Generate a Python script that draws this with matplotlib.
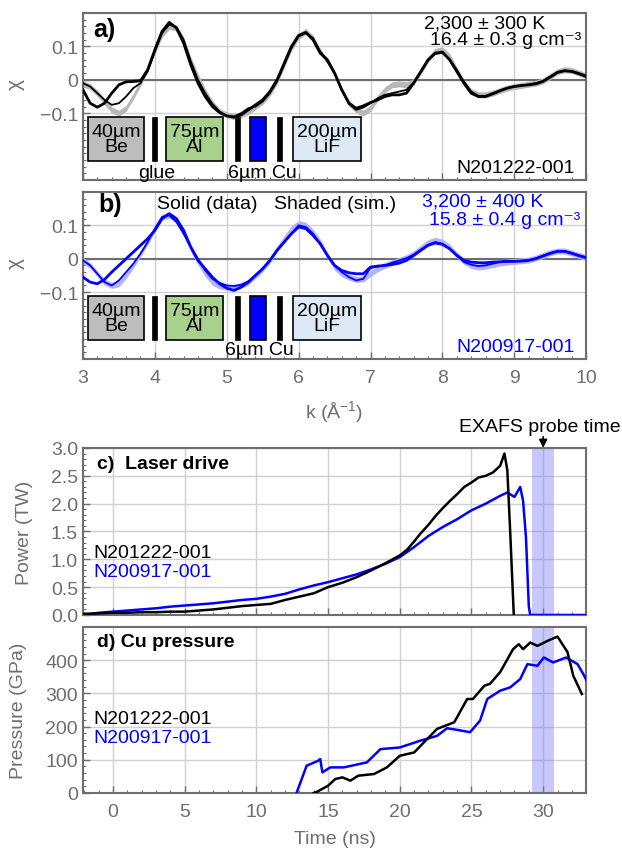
import matplotlib
matplotlib.use("Agg")
import matplotlib.pyplot as plt
from matplotlib.patches import Rectangle
from matplotlib.ticker import MultipleLocator

plt.rcParams['font.family'] = ['Liberation Sans', 'DejaVu Sans']
plt.rcParams['mathtext.fontset'] = 'custom'
plt.rcParams['mathtext.rm'] = 'Liberation Sans'
plt.rcParams['mathtext.it'] = 'Liberation Sans:italic'
plt.rcParams['axes.unicode_minus'] = True

# ---- EXAFS chi(k) data ----
k = [3.0, 3.1, 3.2, 3.3, 3.4, 3.5, 3.6, 3.7, 3.8, 3.9,
     4.0, 4.1, 4.2, 4.3, 4.4, 4.5, 4.6, 4.7, 4.8, 4.9,
     5.0, 5.1, 5.2, 5.3, 5.4, 5.5, 5.6, 5.7, 5.8, 5.9,
     6.0, 6.1, 6.2, 6.3, 6.4, 6.5, 6.6, 6.7, 6.8, 6.9,
     7.0, 7.1, 7.2, 7.3, 7.4, 7.5, 7.6, 7.7, 7.8, 7.9,
     8.0, 8.1, 8.2, 8.3, 8.4, 8.5, 8.6, 8.7, 8.8, 8.9,
     9.0, 9.1, 9.2, 9.3, 9.4, 9.5, 9.6, 9.7, 9.8, 9.9, 10.0]

# N201222-001 (black)
chi_a1 = [-0.030, -0.070, -0.082, -0.070, -0.040, -0.015, -0.006, -0.005, -0.003, 0.030,
          0.090, 0.145, 0.172, 0.155, 0.110, 0.045, -0.010, -0.050, -0.080, -0.098,
          -0.108, -0.112, -0.105, -0.090, -0.075, -0.060, -0.035, 0.000, 0.050, 0.100,
          0.133, 0.142, 0.120, 0.080, 0.060, 0.020, -0.030, -0.070, -0.085, -0.078,
          -0.068, -0.060, -0.050, -0.045, -0.045, -0.040, -0.010, 0.025, 0.060, 0.080,
          0.083, 0.060, 0.025, -0.010, -0.040, -0.050, -0.050, -0.042, -0.033, -0.025,
          -0.020, -0.017, -0.015, -0.012, -0.005, 0.008, 0.022, 0.027, 0.025, 0.018, 0.010]
chi_a2 = [-0.010, -0.020, -0.040, -0.060, -0.075, -0.070, -0.050, -0.025, -0.010, 0.025,
          0.085, 0.140, 0.165, 0.158, 0.120, 0.055, 0.000, -0.040, -0.072, -0.095,
          -0.108, -0.110, -0.100, -0.085, -0.080, -0.065, -0.040, -0.005, 0.045, 0.095,
          0.130, 0.140, 0.125, 0.085, 0.055, 0.020, -0.030, -0.072, -0.090, -0.083,
          -0.070, -0.055, -0.045, -0.040, -0.035, -0.030, -0.008, 0.022, 0.058, 0.078,
          0.080, 0.062, 0.030, -0.005, -0.035, -0.048, -0.048, -0.040, -0.032, -0.025,
          -0.020, -0.017, -0.014, -0.010, -0.003, 0.010, 0.023, 0.028, 0.026, 0.020, 0.012]
sim_a = [-0.012, -0.020, -0.040, -0.065, -0.090, -0.100, -0.085, -0.050, -0.010, 0.035,
         0.085, 0.135, 0.160, 0.155, 0.120, 0.060, 0.010, -0.035, -0.070, -0.095,
         -0.105, -0.110, -0.105, -0.095, -0.080, -0.065, -0.040, -0.005, 0.045, 0.095,
         0.130, 0.145, 0.125, 0.085, 0.055, 0.020, -0.030, -0.070, -0.090, -0.100,
         -0.085, -0.055, -0.030, -0.015, -0.012, -0.015, -0.005, 0.025, 0.060, 0.085,
         0.090, 0.070, 0.030, -0.010, -0.035, -0.045, -0.045, -0.040, -0.032, -0.025,
         -0.020, -0.017, -0.013, -0.010, -0.003, 0.010, 0.024, 0.030, 0.028, 0.020, 0.012]

# N200917-001 (blue)
chi_b1 = [-0.055, -0.070, -0.075, -0.062, -0.040, -0.020, 0.000, 0.020, 0.040, 0.060,
          0.085, 0.120, 0.135, 0.120, 0.085, 0.035, -0.005, -0.030, -0.055, -0.075,
          -0.088, -0.095, -0.085, -0.070, -0.050, -0.030, -0.005, 0.025, 0.050, 0.075,
          0.095, 0.090, 0.070, 0.045, 0.010, -0.020, -0.035, -0.042, -0.045, -0.045,
          -0.025, -0.022, -0.020, -0.017, -0.013, -0.005, 0.010, 0.025, 0.040, 0.047,
          0.043, 0.030, 0.010, -0.005, -0.010, -0.012, -0.012, -0.010, -0.009, -0.008,
          -0.008, -0.007, -0.005, 0.000, 0.008, 0.016, 0.022, 0.022, 0.016, 0.009, 0.003]
chi_b2 = [-0.005, -0.020, -0.045, -0.070, -0.080, -0.065, -0.040, -0.015, 0.015, 0.050,
          0.090, 0.125, 0.130, 0.110, 0.075, 0.035, 0.000, -0.035, -0.060, -0.072,
          -0.080, -0.082, -0.078, -0.068, -0.050, -0.030, -0.005, 0.025, 0.050, 0.075,
          0.100, 0.095, 0.075, 0.045, 0.010, -0.020, -0.040, -0.055, -0.065, -0.060,
          -0.028, -0.023, -0.020, -0.012, -0.005, 0.002, 0.012, 0.027, 0.042, 0.050,
          0.045, 0.030, 0.010, -0.010, -0.018, -0.022, -0.020, -0.015, -0.010, -0.008,
          -0.007, -0.006, -0.004, 0.001, 0.009, 0.017, 0.022, 0.023, 0.017, 0.010, 0.004]
sim_b = [-0.005, -0.020, -0.045, -0.070, -0.080, -0.075, -0.050, -0.020, 0.015, 0.050,
         0.090, 0.125, 0.130, 0.115, 0.075, 0.030, -0.010, -0.045, -0.070, -0.082,
         -0.085, -0.085, -0.080, -0.070, -0.050, -0.030, -0.005, 0.030, 0.060, 0.090,
         0.105, 0.100, 0.080, 0.050, 0.010, -0.025, -0.045, -0.055, -0.062, -0.060,
         -0.045, -0.030, -0.020, -0.012, -0.005, 0.003, 0.015, 0.032, 0.048, 0.055,
         0.050, 0.035, 0.012, -0.008, -0.020, -0.025, -0.022, -0.018, -0.013, -0.010,
         -0.008, -0.006, -0.004, 0.002, 0.010, 0.018, 0.023, 0.023, 0.017, 0.010, 0.004]
sim_halfwidth = 0.009

# ---- laser drive power (TW) ----
t_pow_black = [-2.1, -1, 0, 1, 2, 3, 4, 5, 6, 7, 8, 9, 10, 11, 12, 13, 14, 15, 16, 17,
               18, 19, 20, 20.5, 21, 21.4, 22, 22.5, 23, 23.5, 24, 24.5, 25, 25.5, 26,
               26.5, 27, 27.3, 27.5, 27.7, 27.85, 27.95]
pow_black = [0.02, 0.03, 0.04, 0.04, 0.05, 0.05, 0.06, 0.06, 0.08, 0.10, 0.13, 0.16, 0.18,
             0.20, 0.27, 0.33, 0.39, 0.50, 0.58, 0.68, 0.80, 0.93, 1.07, 1.17, 1.32, 1.45,
             1.62, 1.78, 1.92, 2.05, 2.17, 2.30, 2.38, 2.47, 2.50, 2.56, 2.68, 2.90, 2.60,
             1.50, 0.60, 0.0]
t_pow_blue = [-2.1, -1.5, -1, 0, 1, 2, 3, 4, 5, 6, 7, 8, 9, 10, 11, 12, 13, 14, 15, 16, 17,
              18, 19, 20, 21, 22, 23, 24, 25, 26, 27, 27.5, 28, 28.4, 28.6, 28.8, 29.0,
              29.1, 33.2]
pow_blue = [0.0, 0.02, 0.04, 0.06, 0.08, 0.10, 0.12, 0.15, 0.17, 0.19, 0.21, 0.24, 0.27,
            0.29, 0.33, 0.38, 0.46, 0.53, 0.59, 0.66, 0.73, 0.82, 0.92, 1.04, 1.22, 1.42,
            1.58, 1.72, 1.88, 2.00, 2.14, 2.20, 2.12, 2.30, 2.05, 1.40, 0.15, 0.0, 0.0]

# ---- Cu pressure (GPa) ----
t_p_black = [14.0, 14.2, 15.0, 15.5, 16.0, 16.55, 17.1, 18.2, 19.1, 20.0, 21.0, 21.9,
             22.6, 23.8, 24.7, 25.1, 25.9, 26.3, 27.0, 27.9, 28.3, 28.6, 29.1, 29.6,
             30.3, 31.0, 31.7, 32.1, 32.7]
p_black = [0, 3, 22, 42, 47, 37, 52, 57, 77, 112, 122, 162, 193, 213, 283, 283, 323,
           329, 364, 433, 448, 433, 453, 443, 458, 471, 424, 353, 298]
t_p_blue = [12.8, 13.5, 14.3, 14.45, 14.6, 15.15, 16.1, 17.7, 18.65, 20.0, 21.4, 22.6,
            23.3, 24.0, 24.9, 25.6, 26.1, 27.0, 27.7, 28.4, 28.9, 29.6, 30.05, 30.7,
            31.6, 32.4, 32.8, 33.1]
p_blue = [0, 82, 97, 102, 62, 77, 77, 92, 132, 137, 157, 172, 195, 190, 183, 218, 283,
          308, 318, 343, 388, 383, 408, 393, 408, 388, 358, 333]

probe_window = (29.25, 30.75)
probe_time = 30.0

GRAY = '#6e6e6e'
GRID = '#d0d0d0'
SHOT1 = 'N201222-001'
SHOT2 = 'N200917-001'

fig = plt.figure(figsize=(6.22, 8.54), dpi=100)
ax_a = fig.add_axes([0.1334, 0.788, 0.809, 0.1956])
ax_b = fig.add_axes([0.1334, 0.5785, 0.809, 0.1956])
ax_c = fig.add_axes([0.1334, 0.2787, 0.809, 0.1956])
ax_d = fig.add_axes([0.1334, 0.0703, 0.809, 0.1944])


def style_axes(ax):
    for sp in ax.spines.values():
        sp.set_color(GRAY)
        sp.set_linewidth(1.5)
    ax.tick_params(which='both', direction='in', colors=GRAY, labelsize=14,
                   top=False, right=False)
    ax.tick_params(which='major', length=5, width=1)
    ax.tick_params(which='minor', length=2.5, width=0.8)
    ax.grid(True, which='major', color=GRID, lw=1)
    ax.set_axisbelow(True)


def draw_layers(ax, glue_label):
    boxes = [(3.065, 3.85, '#bdbdbd', '40µm\nBe'),
             (4.15, 4.95, '#a9d18e', '75µm\nAl'),
             (5.92, 6.87, '#dde9f5', '200µm\nLiF')]
    for x0, x1, fc, lab in boxes:
        ax.add_patch(Rectangle((x0, -0.242), x1 - x0, 0.13, facecolor=fc,
                               edgecolor='black', lw=1.2, zorder=5))
        ax.text((x0 + x1) / 2, -0.177, lab, ha='center', va='center', fontsize=14,
                linespacing=0.85, zorder=6)
    for x0, x1 in [(3.96, 4.03), (5.12, 5.18), (5.70, 5.77)]:
        ax.add_patch(Rectangle((x0, -0.242), x1 - x0, 0.13, facecolor='black',
                               edgecolor='black', lw=0.5, zorder=5))
    ax.add_patch(Rectangle((5.33, -0.242), 0.21, 0.13, facecolor='#0000ff',
                           edgecolor='black', lw=1.2, zorder=5))
    if glue_label:
        ax.text(4.03, -0.276, 'glue', ha='center', va='center', fontsize=14)
        ax.text(5.5, -0.276, '6µm Cu', ha='center', va='center', fontsize=14)
    else:
        ax.text(5.46, -0.272, '6µm Cu', ha='center', va='center', fontsize=14,
                zorder=7)


# ---- panel a ----
ax = ax_a
style_axes(ax)
lo = [s - sim_halfwidth for s in sim_a]
hi = [s + sim_halfwidth for s in sim_a]
ax.fill_between(k, lo, hi, color='#b8b8b8', lw=0, zorder=2)
ax.axhline(0, color=GRAY, lw=1.5, zorder=1.5)
ax.plot(k, chi_a2, color='black', lw=1.3, zorder=3)
ax.plot(k, chi_a1, color='black', lw=2.0, zorder=3)
ax.set_xlim(3, 10)
ax.set_ylim(-0.3, 0.2)
ax.set_yticks([-0.1, 0, 0.1])
ax.set_yticklabels(['\u22120.1', '0', '0.1'])
ax.yaxis.set_minor_locator(MultipleLocator(0.02))
ax.xaxis.set_minor_locator(MultipleLocator(0.2))
ax.set_xticks(range(3, 11))
ax.set_xticklabels([])
ax.set_ylabel('χ', fontsize=15, color=GRAY)
ax.yaxis.set_label_coords(-0.115, 0.58)
draw_layers(ax, True)
ax.text(0.02, 0.904, 'a)', transform=ax.transAxes, fontsize=18, fontweight='bold',
        va='center')
ax.text(0.918, 0.938, '2,300 ± 300 K', transform=ax.transAxes, fontsize=14,
        ha='right', va='center')
ax.text(0.99, 0.84, '16.4 ± 0.3 g cm\u207b\u00b3', transform=ax.transAxes,
        fontsize=14, ha='right', va='center')
ax.text(0.978, 0.078, SHOT1, transform=ax.transAxes, fontsize=14, ha='right',
        va='center')

# ---- panel b ----
ax = ax_b
style_axes(ax)
lo = [s - sim_halfwidth for s in sim_b]
hi = [s + sim_halfwidth for s in sim_b]
ax.fill_between(k, lo, hi, color='#b3b3ff', lw=0, zorder=2)
ax.axhline(0, color=GRAY, lw=1.5, zorder=1.5)
ax.plot(k, chi_b2, color='#0000ff', lw=1.3, zorder=3)
ax.plot(k, chi_b1, color='#0000ff', lw=2.0, zorder=3)
ax.set_xlim(3, 10)
ax.set_ylim(-0.3, 0.2)
ax.set_yticks([-0.1, 0, 0.1])
ax.set_yticklabels(['\u22120.1', '0', '0.1'])
ax.yaxis.set_minor_locator(MultipleLocator(0.02))
ax.xaxis.set_minor_locator(MultipleLocator(0.2))
ax.set_xticks(range(3, 11))
ax.tick_params(axis='x', pad=7)
ax.set_ylabel('χ', fontsize=15, color=GRAY)
ax.yaxis.set_label_coords(-0.115, 0.58)
ax.set_xlabel(r'k (Å$^{-1}$)', fontsize=14, color=GRAY)
ax.xaxis.set_label_coords(0.5, -0.235)
draw_layers(ax, False)
ax.text(0.03, 0.928, 'b)', transform=ax.transAxes, fontsize=18, fontweight='bold',
        va='center')
ax.text(0.147, 0.928, 'Solid (data)', transform=ax.transAxes, fontsize=14, va='center')
ax.text(0.38, 0.928, 'Shaded (sim.)', transform=ax.transAxes, fontsize=14, va='center')
ax.text(0.915, 0.944, '3,200 ± 400 K', transform=ax.transAxes, fontsize=14,
        ha='right', va='center', color='#0000ff')
ax.text(0.988, 0.836, '15.8 ± 0.4 g cm\u207b\u00b3', transform=ax.transAxes,
        fontsize=14, ha='right', va='center', color='#0000ff')
ax.text(0.978, 0.072, SHOT2, transform=ax.transAxes, fontsize=14, ha='right',
        va='center', color='#0000ff')

# ---- panel c: laser drive ----
ax = ax_c
style_axes(ax)
ax.axvspan(*probe_window, color='#7777ff', alpha=0.4, lw=0, zorder=1)
ax.axhline(0, xmin=0.85, color='#999999', lw=2, zorder=2)
ax.plot(t_pow_blue, pow_blue, color='#0000ff', lw=1.8, zorder=3)
ax.plot(t_pow_black, pow_black, color='black', lw=1.8, zorder=4)
ax.set_xlim(-2.1, 33)
ax.set_ylim(0, 3.0)
ax.set_xticks(range(0, 35, 5))
ax.set_xticklabels([])
ax.set_yticks([0, 0.5, 1.0, 1.5, 2.0, 2.5, 3.0])
ax.set_yticklabels(['0.0', '0.5', '1.0', '1.5', '2.0', '2.5', '3.0'])
ax.xaxis.set_minor_locator(MultipleLocator(1))
ax.yaxis.set_minor_locator(MultipleLocator(0.1))
ax.set_ylabel('Power (TW)', fontsize=14, color=GRAY)
ax.yaxis.set_label_coords(-0.1, 0.5)
ax.text(0.028, 0.904, 'c)  Laser drive', transform=ax.transAxes, fontsize=14,
        fontweight='bold', va='center')
ax.text(0.02, 0.377, SHOT1, transform=ax.transAxes, fontsize=14, va='center')
ax.text(0.02, 0.263, SHOT2, transform=ax.transAxes, fontsize=14, va='center',
        color='#0000ff')
ax.annotate('', xy=(probe_time, 3.0), xytext=(probe_time, 3.2),
            xycoords='data', textcoords='data', annotation_clip=False,
            arrowprops=dict(arrowstyle='-|>', color='black', lw=1.2,
                            mutation_scale=12, shrinkA=0, shrinkB=0))
fig.text(0.997, 0.4995, 'EXAFS probe time', fontsize=14, ha='right', va='center')

# ---- panel d: Cu pressure ----
ax = ax_d
style_axes(ax)
ax.axvspan(*probe_window, color='#7777ff', alpha=0.4, lw=0, zorder=1)
ax.plot(t_p_blue, p_blue, color='#0000ff', lw=1.8, zorder=3)
ax.plot(t_p_black, p_black, color='black', lw=1.8, zorder=4)
ax.set_xlim(-2.1, 33)
ax.set_ylim(0, 500)
ax.set_xticks(range(0, 35, 5))
ax.set_yticks([0, 100, 200, 300, 400])
ax.xaxis.set_minor_locator(MultipleLocator(1))
ax.yaxis.set_minor_locator(MultipleLocator(20))
ax.tick_params(axis='x', pad=7)
ax.set_ylabel('Pressure (GPa)', fontsize=14, color=GRAY)
ax.yaxis.set_label_coords(-0.111, 0.5)
ax.set_xlabel('Time (ns)', fontsize=14, color=GRAY)
ax.xaxis.set_label_coords(0.5, -0.225)
ax.text(0.028, 0.91, 'd) Cu pressure', transform=ax.transAxes, fontsize=14,
        fontweight='bold', va='center')
ax.text(0.02, 0.446, SHOT1, transform=ax.transAxes, fontsize=14, va='center')
ax.text(0.02, 0.337, SHOT2, transform=ax.transAxes, fontsize=14, va='center',
        color='#0000ff')

fig.savefig('out.png', dpi=100)
